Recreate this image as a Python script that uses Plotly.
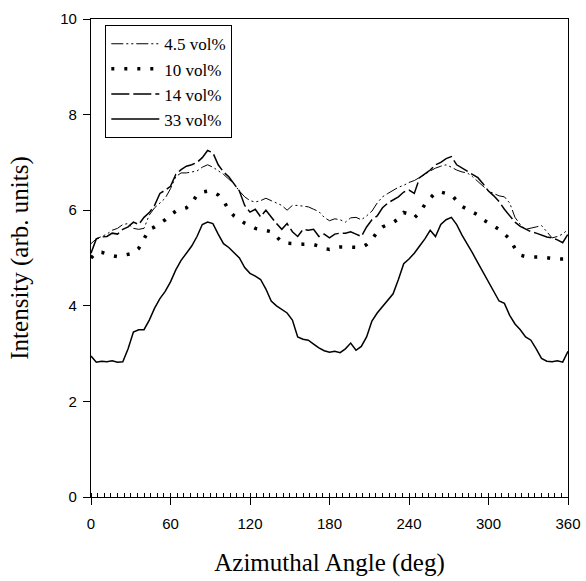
import plotly.graph_objects as go

angle = list(range(0, 361, 4))

s45 = [5.3, 5.4, 5.45, 5.5, 5.58, 5.62, 5.7, 5.72, 5.62, 5.6, 5.62, 5.9, 6.05, 6.15, 6.25, 6.45,
       6.7, 6.78, 6.78, 6.8, 6.82, 6.9, 6.95, 6.9, 6.82, 6.75, 6.65, 6.55, 6.4, 6.28, 6.2, 6.17,
       6.2, 6.25, 6.2, 6.15, 6.1, 6.0, 6.1, 6.1, 6.08, 6.07, 6.02, 5.97, 5.85, 5.78, 5.82, 5.8,
       5.75, 5.84, 5.85, 5.8, 5.88, 5.98, 6.15, 6.28, 6.35, 6.42, 6.48, 6.52, 6.58, 6.62, 6.68,
       6.75, 6.82, 6.88, 6.92, 6.95, 6.9, 6.84, 6.8, 6.78, 6.7, 6.6, 6.5, 6.4, 6.35, 6.3, 6.28,
       6.15, 5.85, 5.7, 5.6, 5.62, 5.65, 5.68, 5.55, 5.42, 5.45, 5.5, 5.6]

s10 = [5.0, 5.12, 5.12, 5.08, 5.05, 5.03, 5.05, 5.08, 5.1, 5.2, 5.4, 5.6, 5.65, 5.72, 5.8, 5.9,
       5.98, 6.02, 6.05, 6.15, 6.32, 6.38, 6.4, 6.38, 6.32, 6.2, 6.0, 5.88, 5.8, 5.73, 5.68, 5.62,
       5.6, 5.58, 5.55, 5.45, 5.33, 5.31, 5.3, 5.29, 5.29, 5.29, 5.28, 5.25, 5.2, 5.18, 5.22, 5.23,
       5.23, 5.23, 5.22, 5.22, 5.28, 5.38, 5.55, 5.65, 5.7, 5.74, 5.82, 5.95, 5.92, 5.84, 5.95,
       6.12, 6.25, 6.37, 6.38, 6.35, 6.32, 6.2, 6.08, 6.02, 5.96, 5.9, 5.8, 5.74, 5.68, 5.6, 5.5,
       5.4, 5.2, 5.06, 5.03, 5.02, 5.02, 5.02, 5.0, 4.99, 4.98, 4.98, 4.98]

s14 = [5.1, 5.4, 5.44, 5.45, 5.52, 5.5, 5.6, 5.65, 5.75, 5.7, 5.85, 5.95, 6.1, 6.35, 6.42, 6.5,
       6.75, 6.85, 6.92, 6.95, 7.0, 7.1, 7.25, 7.2, 6.95, 6.8, 6.7, 6.55, 6.4, 6.1, 5.96, 6.02,
       5.86, 6.0, 5.85, 5.72, 5.6, 5.72, 5.55, 5.45, 5.6, 5.58, 5.6, 5.45, 5.5, 5.42, 5.5, 5.52,
       5.52, 5.55, 5.5, 5.45, 5.65, 5.8, 5.88, 6.05, 6.15, 6.22, 6.28, 6.38, 6.42, 6.35, 6.68,
       6.76, 6.84, 6.95, 7.0, 7.08, 7.12, 6.95, 6.88, 6.82, 6.75, 6.68, 6.55, 6.4, 6.3, 6.18, 6.02,
       5.88, 5.75, 5.66, 5.6, 5.55, 5.52, 5.48, 5.44, 5.42, 5.38, 5.32, 5.5]

s33 = [2.95, 2.82, 2.84, 2.83, 2.85, 2.82, 2.83, 3.1, 3.45, 3.5, 3.5, 3.7, 3.95, 4.15, 4.3, 4.5,
       4.75, 4.95, 5.1, 5.25, 5.45, 5.7, 5.75, 5.72, 5.5, 5.3, 5.22, 5.1, 5.0, 4.8, 4.68, 4.62,
       4.55, 4.35, 4.1, 4.0, 3.93, 3.85, 3.7, 3.35, 3.3, 3.28, 3.2, 3.12, 3.06, 3.03, 3.05, 3.02,
       3.1, 3.22, 3.07, 3.15, 3.35, 3.68, 3.85, 3.98, 4.1, 4.25, 4.55, 4.88, 4.98, 5.1, 5.25,
       5.4, 5.58, 5.45, 5.7, 5.8, 5.85, 5.7, 5.48, 5.3, 5.1, 4.9, 4.7, 4.5, 4.3, 4.1, 4.05,
       3.8, 3.62, 3.5, 3.35, 3.28, 3.1, 2.9, 2.84, 2.83, 2.85, 2.82, 3.05]

names = ["4.5 vol%", "10 vol%", "14 vol%", "33 vol%"]
x_ticks = [0, 60, 120, 180, 240, 300, 360]
y_ticks = [0, 2, 4, 6, 8, 10]

styles = [
    dict(width=1, dash="12px,3px,2px,3px,2px,3px"),
    dict(width=3.5, dash="3px,10px"),
    dict(width=1.5, dash="18px,4px"),
    dict(width=1.5, dash="solid"),
]

fig = go.Figure()
for name, ys, st in zip(names, [s45, s10, s14, s33], styles):
    fig.add_trace(go.Scatter(x=angle, y=ys, mode="lines", name=name,
                             line=dict(color="black", **st)))

fig.update_layout(
    width=586, height=581,
    margin=dict(l=91, r=18, t=19, b=84),
    paper_bgcolor="white", plot_bgcolor="white",
    showlegend=True,
    legend=dict(x=0.03, y=0.987, xanchor="left", yanchor="top",
                bordercolor="black", borderwidth=1, bgcolor="white",
                font=dict(family="Liberation Serif", size=17, color="black"),
                itemwidth=48, tracegroupgap=0),
    font=dict(family="Liberation Sans", color="black"),
)
fig.update_xaxes(range=[0, 360], tickvals=x_ticks, ticks="outside", ticklen=7,
                 tickcolor="black", showline=True, linecolor="black", linewidth=1.2,
                 mirror=True, showgrid=False, zeroline=False, automargin=False,
                 ticklabelstandoff=6,
                 tickfont=dict(family="Liberation Sans", size=15, color="black"),
                 minor=dict(dtick=5, tick0=0, ticks="inside", ticklen=4, tickcolor="black", showgrid=False),
                 title=dict(text="Azimuthal Angle (deg)", standoff=22,
                            font=dict(family="Liberation Serif", size=25, color="black")))
fig.update_yaxes(range=[0, 10], tickvals=y_ticks, ticks="outside", ticklen=7,
                 tickcolor="black", showline=True, linecolor="black", linewidth=1.2,
                 mirror=True, showgrid=False, zeroline=False, automargin=False,
                 ticklabelstandoff=3,
                 tickfont=dict(family="Liberation Sans", size=15, color="black"),
                 title=dict(text="Intensity (arb. units)", standoff=24,
                            font=dict(family="Liberation Serif", size=25, color="black")))

fig.write_html("out.html")
